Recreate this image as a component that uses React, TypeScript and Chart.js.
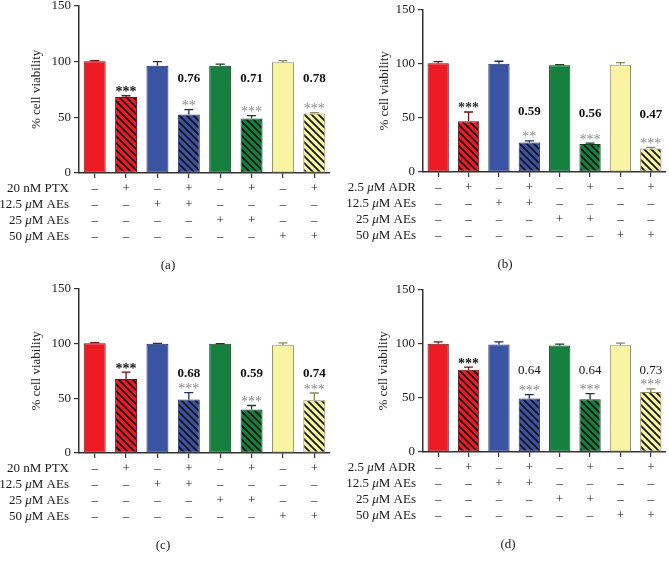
import React, { useEffect, useRef } from 'react';
import { Chart, registerables } from 'chart.js';

Chart.register(...registerables);

const FONT = "'Liberation Serif', 'Times New Roman', serif";

// ---- shared categories / treatment grid ----
const categories = ['Ctrl', 'Drug', 'AEs12.5', 'Drug+AEs12.5', 'AEs25', 'Drug+AEs25', 'AEs50', 'Drug+AEs50'];
const signsRow1 = ['–', '+', '–', '+', '–', '+', '–', '+'];
const signsRow2 = ['–', '–', '+', '+', '–', '–', '–', '–'];
const signsRow3 = ['–', '–', '–', '–', '+', '+', '–', '–'];
const signsRow4 = ['–', '–', '–', '–', '–', '–', '+', '+'];
const ptxRowLabels = ['20 nM PTX', '12.5 μM AEs', '25 μM AEs', '50 μM AEs'];
const adrRowLabels = ['2.5 μM ADR', '12.5 μM AEs', '25 μM AEs', '50 μM AEs'];
const yTicks = [0, 50, 100, 150];
const yTitle = '% cell viability';

// ---- panel (a) ----
const aValues = [100.3, 68.1, 96.2, 52.4, 96.2, 48.8, 99.4, 53.3];
const aErrors = [0.6, 1.2, 3.8, 4.5, 1.4, 2.7, 1.5, 0.8];
const aStars = ['', '***', '', '**', '', '***', '', '***'];
const aRatios = ['', '', '', '0.76', '', '0.71', '', '0.78'];
const aRatioLevels = [0, 0, 0, 85.7, 0, 85.7, 0, 85.7];

// ---- panel (b) ----
const bValues = [100.6, 46.9, 100.0, 27.3, 98.7, 26.0, 99.1, 21.8];
const bErrors = [1.5, 8.6, 2.4, 1.5, 0.6, 0.7, 2.0, 0.9];
const bStars = ['', '***', '', '**', '', '***', '', '***'];
const bRatios = ['', '', '', '0.59', '', '0.56', '', '0.47'];
const bRatioLevels = [0, 0, 0, 57.0, 0, 55.2, 0, 54.0];

// ---- panel (c) ----
const cValues = [100.3, 67.6, 99.7, 48.8, 99.7, 39.7, 98.5, 48.2];
const cErrors = [0.5, 6.3, 0.4, 6.4, 0.3, 3.7, 2.1, 6.6];
const cStars = ['', '***', '', '***', '', '***', '', '***'];
const cRatios = ['', '', '', '0.68', '', '0.59', '', '0.74'];
const cRatioLevels = [0, 0, 0, 73.6, 0, 73.6, 0, 73.6];

// ---- panel (d) ----
const dValues = [100.0, 76.1, 99.4, 49.4, 98.5, 48.8, 98.7, 55.5];
const dErrors = [1.9, 2.4, 2.5, 3.7, 1.2, 5.2, 1.9, 2.8];
const dStars = ['', '***', '', '***', '', '***', '', '***'];
const dRatios = ['', '', '', '0.64', '', '0.64', '', '0.73'];
const dRatioLevels = [0, 0, 0, 76.4, 0, 76.4, 0, 76.4];

const baseColors = ['#ED1C24', '#3A54A3', '#16803F', '#F8F4A2'];
const edgeColors = ['#6E1214', '#1E2D5E', '#0C4422', '#8C8862'];

type Panel = {
  key: string;
  label: string;
  values: number[];
  errors: number[];
  stars: string[];
  ratios: string[];
  ratioLevels: number[];
  rowLabels: string[];
  ratioBold: boolean;
  area: { l: number; r: number; t: number; b: number };
  titlePad: number;
  rowGap: number;
  labelDx: number;
};

const panels: Panel[] = [
  { key: 'a', label: '(a)', values: aValues, errors: aErrors, stars: aStars, ratios: aRatios, ratioLevels: aRatioLevels, rowLabels: ptxRowLabels, ratioBold: true, area: { l: 79, r: 330, t: 5, b: 173 }, titlePad: 4, rowGap: 10, labelDx: 89 },
  { key: 'b', label: '(b)', values: bValues, errors: bErrors, stars: bStars, ratios: bRatios, ratioLevels: bRatioLevels, rowLabels: adrRowLabels, ratioBold: true, area: { l: 423, r: 666, t: 9, b: 172 }, titlePad: 8, rowGap: 7, labelDx: 82 },
  { key: 'c', label: '(c)', values: cValues, errors: cErrors, stars: cStars, ratios: cRatios, ratioLevels: cRatioLevels, rowLabels: ptxRowLabels, ratioBold: true, area: { l: 79, r: 330, t: 288, b: 453 }, titlePad: 4, rowGap: 10, labelDx: 84 },
  { key: 'd', label: '(d)', values: dValues, errors: dErrors, stars: dStars, ratios: dRatios, ratioLevels: dRatioLevels, rowLabels: adrRowLabels, ratioBold: false, area: { l: 423, r: 666, t: 289, b: 452 }, titlePad: 7, rowGap: 7, labelDx: 85 },
];

const PAD_L = 90;
const PAD_T = 10;
const PAD_R = 3;
const PAD_B = 105;
const Y_W = 54;
const X_H = 6;

function makeHatch(bg: string): CanvasPattern | string {
  const s = 7;
  const c = document.createElement('canvas');
  c.width = s;
  c.height = s;
  const g = c.getContext('2d');
  if (!g) return bg;
  g.fillStyle = bg;
  g.fillRect(0, 0, s, s);
  g.strokeStyle = '#111';
  g.lineWidth = 1.7;
  g.beginPath();
  for (const k of [-s, 0, s]) {
    g.moveTo(k - 1, -1);
    g.lineTo(k + s + 1, s + 1);
  }
  g.stroke();
  return g.createPattern(c, 'repeat') || bg;
}

function drawRich(ctx: CanvasRenderingContext2D, text: string, xRight: number, y: number, size: number) {
  const parts = text.split('μ');
  const normal = `${size}px ${FONT}`;
  const italic = `italic ${size}px ${FONT}`;
  const segs: { t: string; f: string }[] = [];
  parts.forEach((p, i) => {
    if (i > 0) segs.push({ t: 'μ', f: italic });
    if (p) segs.push({ t: p, f: normal });
  });
  let total = 0;
  for (const s of segs) {
    ctx.font = s.f;
    total += ctx.measureText(s.t).width;
  }
  let x = xRight - total;
  ctx.textAlign = 'left';
  for (const s of segs) {
    ctx.font = s.f;
    ctx.fillText(s.t, x, y);
    x += ctx.measureText(s.t).width;
  }
}

function PanelChart({ p }: { p: Panel }) {
  const ref = useRef<HTMLCanvasElement>(null);
  const w = p.area.r - p.area.l + PAD_L + PAD_R;
  const h = p.area.b - p.area.t + PAD_T + PAD_B;
  const left = p.area.l - PAD_L;
  const top = p.area.t - PAD_T;

  useEffect(() => {
    const canvas = ref.current;
    if (!canvas) return;
    const fills = categories.map((_, i) => {
      const base = baseColors[Math.floor(i / 2)];
      return i % 2 === 1 ? makeHatch(base) : base;
    });
    const edges = categories.map((_, i) => edgeColors[Math.floor(i / 2)]);
    const signRows = [signsRow1, signsRow2, signsRow3, signsRow4];

    const annot = {
      id: 'annot' + p.key,
      afterDatasetsDraw(chart: any) {
        const ctx: CanvasRenderingContext2D = chart.ctx;
        const ys = chart.scales.y;
        const meta = chart.getDatasetMeta(0);
        ctx.save();
        meta.data.forEach((bar: any, i: number) => {
          const v = p.values[i];
          const e = p.errors[i];
          const x = bar.x;
          const yTop = ys.getPixelForValue(v);
          const yCap = ys.getPixelForValue(v + e);
          ctx.strokeStyle = edges[i];
          ctx.lineWidth = 1.3;
          ctx.beginPath();
          ctx.moveTo(x, yTop);
          ctx.lineTo(x, yCap);
          ctx.moveTo(x - 4.5, yCap);
          ctx.lineTo(x + 4.5, yCap);
          ctx.stroke();
          const st = p.stars[i];
          if (st) {
            const strong = i === 1;
            ctx.font = `${strong ? 'bold ' : ''}14px ${FONT}`;
            ctx.fillStyle = strong ? (p.key === 'b' ? '#333' : '#111') : '#8a8a8a';
            ctx.textAlign = 'center';
            ctx.textBaseline = 'alphabetic';
            ctx.fillText(st, x, yCap + 0.5);
          }
          const r = p.ratios[i];
          if (r) {
            ctx.font = `${p.ratioBold ? 'bold ' : ''}13px ${FONT}`;
            ctx.fillStyle = '#111';
            ctx.textAlign = 'center';
            ctx.textBaseline = 'alphabetic';
            ctx.fillText(r, x, ys.getPixelForValue(p.ratioLevels[i]) + 4.5);
          }
        });
        ctx.restore();
      },
      afterDraw(chart: any) {
        const ctx: CanvasRenderingContext2D = chart.ctx;
        const xs = chart.scales.x;
        const area = chart.chartArea;
        ctx.save();
        ctx.fillStyle = '#1a1a1a';
        ctx.textBaseline = 'middle';
        signRows.forEach((row, r) => {
          const y = area.bottom + 16 + r * 16;
          drawRich(ctx, p.rowLabels[r], area.left - p.rowGap, y, 13);
          ctx.font = `13px ${FONT}`;
          ctx.textAlign = 'center';
          row.forEach((s, i) => {
            ctx.fillText(s, xs.getPixelForValue(i), y);
          });
        });
        ctx.font = `13px ${FONT}`;
        ctx.textAlign = 'center';
        ctx.fillText(p.label, area.left + p.labelDx, area.bottom + 93);
        ctx.restore();
      },
    };

    const chart = new Chart(canvas, {
      type: 'bar',
      data: {
        labels: categories,
        datasets: [
          {
            data: p.values,
            backgroundColor: fills as any,
            borderColor: edges,
            borderWidth: 1,
            borderSkipped: false,
            barPercentage: 0.7,
            categoryPercentage: 1,
          },
        ],
      },
      options: {
        responsive: false,
        animation: false,
        devicePixelRatio: 1,
        layout: { padding: { left: PAD_L - Y_W, top: PAD_T, right: PAD_R, bottom: PAD_B - X_H } },
        plugins: { legend: { display: false }, tooltip: { enabled: false }, title: { display: false } },
        scales: {
          x: {
            type: 'category',
            offset: true,
            grid: { offset: false, drawOnChartArea: false, drawTicks: true, tickLength: 5, color: '#333', lineWidth: 1.2 },
            border: { display: true, color: '#333', width: 1.5 },
            ticks: { display: false },
            afterFit: (s: any) => {
              s.height = X_H;
            },
          },
          y: {
            min: 0,
            max: 150,
            afterBuildTicks: (s: any) => {
              s.ticks = yTicks.map((v) => ({ value: v }));
            },
            grid: { drawOnChartArea: false, drawTicks: true, tickLength: 5, color: '#333', lineWidth: 1.2 },
            border: { display: true, color: '#333', width: 1.5 },
            ticks: { padding: 3, color: '#222', font: { family: FONT, size: 13 } },
            title: { display: true, text: yTitle, color: '#222', font: { family: FONT, size: 13 }, padding: { top: p.titlePad, bottom: 0 } },
            afterFit: (s: any) => {
              s.width = Y_W;
            },
          },
        },
      },
      plugins: [annot],
    } as any);
    return () => chart.destroy();
  }, []);

  return (
    <canvas
      ref={ref}
      width={w}
      height={h}
      style={{ position: 'absolute', left, top, width: w, height: h }}
    />
  );
}

export default function App() {
  return (
    <div style={{ position: 'absolute', left: 0, top: 0, width: 669, height: 562, overflow: 'hidden', background: '#fff' }}>
      {panels.map((p) => (
        <PanelChart key={p.key} p={p} />
      ))}
    </div>
  );
}
